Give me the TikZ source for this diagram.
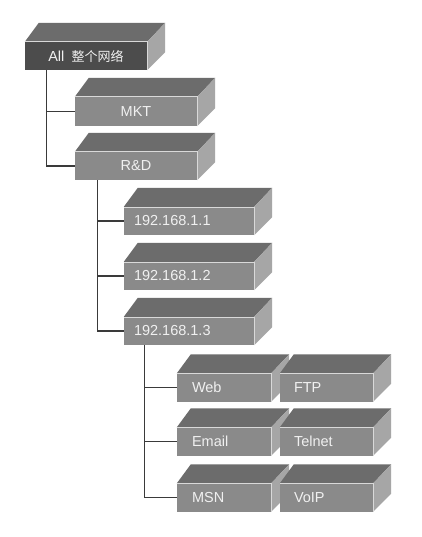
\documentclass[tikz,border=0pt]{standalone}
\usepackage{fontspec}
\setmainfont{Liberation Sans}
\newfontfamily\cjk{Noto Sans CJK SC}
\definecolor{frontgray}{HTML}{8A8A8A}
\definecolor{topgray}{HTML}{6C6C6C}
\definecolor{sidegray}{HTML}{A6A6A6}
\definecolor{rootfront}{HTML}{4C4C4C}
\definecolor{roottop}{HTML}{5E5E5E}
\definecolor{rootside}{HTML}{727272}
\definecolor{linkgray}{HTML}{3A3A3A}
\tikzset{
  box/.style={fill=frontgray, text=white!94!black, minimum height=28pt,
    inner sep=0pt, font=\fontsize{14.5}{16}\selectfont},
  widebox/.style={box, minimum width=122pt},
  ipbox/.style={box, text width=110pt, inner xsep=10pt, align=left},
  servbox/.style={box, text width=78pt, inner xsep=15pt, align=left},
  link/.style={draw=linkgray, line width=1.3pt},
  topcol/.style={fill=topgray},
  sidecol/.style={fill=sidegray},
}
% front face as node, top and side faces from its anchors
\newcommand{\netbox}[4][]{%
  \node[#1] (#2) at (#3) {#4};
  \fill[topcol] (#2.north west) -- ([shift={(14,-19)}]#2.north west)
    -- ([shift={(18,-19)}]#2.north east) -- (#2.north east) -- cycle;
  \fill[sidecol] (#2.north east) -- ([shift={(18,-19)}]#2.north east)
    -- ([shift={(18,-18)}]#2.south east) -- (#2.south east) -- cycle;
  \draw[white!70!gray, line width=0.6pt] (#2.north west) -- (#2.north east) -- (#2.south east);
}
\begin{document}
\begin{tikzpicture}[x=1pt, y=-1pt]
  \useasboundingbox[fill=white] (0,0) rectangle (422,537);
  % root
  \netbox[widebox, fill=rootfront, topcol/.style={fill=roottop},
    sidecol/.style={fill=rootside}]{all}{86,56}{All\hspace{0.5em}{\cjk\fontsize{13}{16}\selectfont 整个网络}}
  % departments
  \netbox[widebox, minimum height=29pt]{mkt}{136,111.5}{MKT}
  \netbox[widebox]{rd}{136,166}{R\&D}
  % hosts
  \netbox[ipbox]{ipa}{189,221}{192.168.1.1}
  \netbox[ipbox]{ipb}{189,276}{192.168.1.2}
  \netbox[ipbox]{ipc}{189,331}{192.168.1.3}
  % services
  \netbox[servbox, text width=64pt]{web}{224,387.5}{Web}
  \netbox[servbox, text width=65pt, inner xsep=14pt]{ftp}{326.5,387.5}{FTP}
  \netbox[servbox, text width=64pt]{email}{224,441.5}{Email}
  \netbox[servbox, text width=65pt, inner xsep=14pt]{telnet}{326.5,441.5}{Telnet}
  \netbox[servbox, text width=64pt]{msn}{224,497.5}{MSN}
  \netbox[servbox, text width=65pt, inner xsep=14pt]{voip}{326.5,497.5}{VoIP}
  % tree links
  \draw[link] ([xshift=22]all.south west) |- (mkt.west);
  \draw[link] ([xshift=22]all.south west) |- (rd.west);
  \draw[link] ([xshift=23]rd.south west) |- (ipa.west);
  \draw[link] ([xshift=23]rd.south west) |- (ipb.west);
  \draw[link] ([xshift=23]rd.south west) |- (ipc.west);
  \draw[link] ([xshift=21]ipc.south west) |- (web.west);
  \draw[link] ([xshift=21]ipc.south west) |- (email.west);
  \draw[link] ([xshift=21]ipc.south west) |- (msn.west);
\end{tikzpicture}
\end{document}
